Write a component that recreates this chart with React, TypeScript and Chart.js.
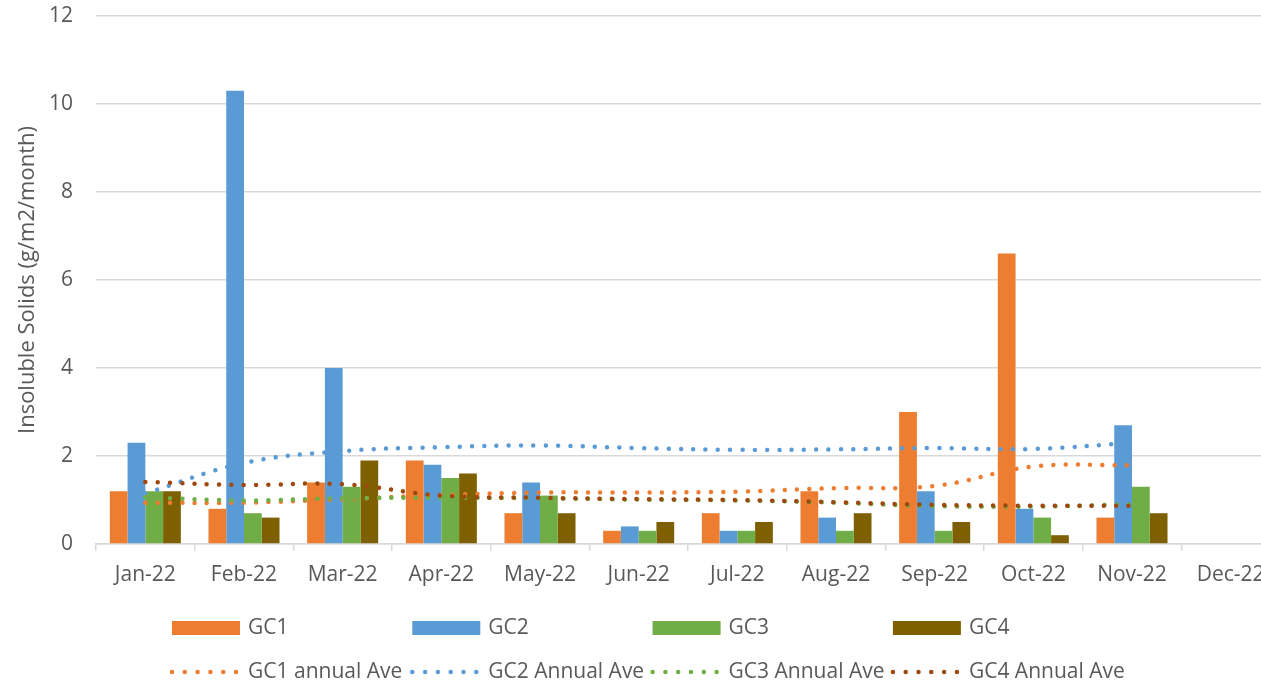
import React, { useEffect, useRef } from "react";
import { Chart, registerables } from "chart.js";

Chart.register(...registerables);

const months = ["Jan-22", "Feb-22", "Mar-22", "Apr-22", "May-22", "Jun-22", "Jul-22", "Aug-22", "Sep-22", "Oct-22", "Nov-22", "Dec-22"];

const gc1 = [1.2, 0.8, 1.4, 1.9, 0.7, 0.3, 0.7, 1.2, 3.0, 6.6, 0.6, null];
const gc2 = [2.3, 10.3, 4.0, 1.8, 1.4, 0.4, 0.3, 0.6, 1.2, 0.8, 2.7, null];
const gc3 = [1.2, 0.7, 1.3, 1.5, 1.1, 0.3, 0.3, 0.3, 0.3, 0.6, 1.3, null];
const gc4 = [1.2, 0.6, 1.9, 1.6, 0.7, 0.5, 0.5, 0.7, 0.5, 0.2, 0.7, null];

const gc1Ave = [0.94, 0.94, 1.02, 1.11, 1.17, 1.17, 1.19, 1.27, 1.32, 1.76, 1.79, null];
const gc2Ave = [1.15, 1.84, 2.11, 2.2, 2.24, 2.18, 2.14, 2.15, 2.18, 2.16, 2.3, null];
const gc3Ave = [1.06, 0.99, 1.04, 1.05, 1.04, 1.01, 0.99, 0.94, 0.86, 0.85, 0.9, null];
const gc4Ave = [1.41, 1.34, 1.36, 1.1, 1.05, 1.02, 1.0, 0.95, 0.89, 0.87, 0.87, null];

const barLabels = ["GC1", "GC2", "GC3", "GC4"];
const lineLabels = ["GC1 annual Ave", "GC2 Annual Ave", "GC3 Annual Ave", "GC4 Annual Ave"];

const barColors = ["#ED7D31", "#5B9BD5", "#70AD47", "#7F6000"];
const lineColors = ["#ED7D31", "#5B9BD5", "#70AD47", "#9E480E"];

const FONT = "'Open Sans', sans-serif";
const TEXT = "#595959";
const GRID = "#d9d9d9";
const DOT_W = 4.5;
const DOT_DASH = [0.001, 12.3];

const gridLegend = {
  id: "gridLegend",
  afterDraw(chart: any) {
    const ctx = chart.ctx;
    const left = chart.chartArea.left + 76;
    const colW = 240.3;
    const row1 = 628;
    const row2 = 672;
    ctx.save();
    ctx.font = `21px ${FONT}`;
    ctx.fillStyle = TEXT;
    ctx.textBaseline = "middle";
    for (let i = 0; i < 4; i++) {
      const x = left + i * colW;
      ctx.fillStyle = barColors[i];
      ctx.fillRect(x, row1 - 7, 68, 14);
      ctx.fillStyle = TEXT;
      ctx.fillText(barLabels[i], x + 76, row1);

      ctx.beginPath();
      ctx.strokeStyle = lineColors[i];
      ctx.lineWidth = DOT_W;
      ctx.lineCap = "round";
      ctx.setLineDash([0.001, 12.8]);
      ctx.moveTo(x, row2);
      ctx.lineTo(x + 66, row2);
      ctx.stroke();
      ctx.setLineDash([]);
      ctx.fillStyle = TEXT;
      ctx.fillText(lineLabels[i], x + 76, row2);
    }
    ctx.restore();
  },
};

export default function App() {
  const ref = useRef<HTMLCanvasElement | null>(null);

  useEffect(() => {
    if (!ref.current) return;
    const bars = [gc1, gc2, gc3, gc4].map((d, i) => ({
      type: "bar" as const,
      label: barLabels[i],
      data: d,
      backgroundColor: barColors[i],
      borderWidth: 0,
      categoryPercentage: 0.72,
      barPercentage: 1.0,
      order: 10,
    }));
    const lines = [gc1Ave, gc2Ave, gc3Ave, gc4Ave].map((d, i) => ({
      type: "line" as const,
      label: lineLabels[i],
      data: d,
      borderColor: lineColors[i],
      backgroundColor: lineColors[i],
      borderWidth: DOT_W,
      borderDash: DOT_DASH,
      borderCapStyle: "round" as const,
      pointRadius: 0,
      pointHoverRadius: 0,
      tension: 0.4,
      fill: false,
      order: 3 - i,
    }));
    const chart = new Chart(ref.current, {
      type: "bar",
      data: { labels: months, datasets: [...bars, ...lines] as any },
      options: {
        animation: false,
        responsive: false,
        maintainAspectRatio: false,
        layout: { padding: { top: 16, right: 4, bottom: 96, left: 0 } },
        plugins: { legend: { display: false }, tooltip: { enabled: false } },
        scales: {
          x: {
            offset: true,
            grid: { display: true, drawOnChartArea: false, drawTicks: true, tickLength: 7, color: GRID, lineWidth: 1.5, offset: true },
            border: { display: true, color: GRID, width: 1.5 },
            ticks: { color: TEXT, font: { family: FONT, size: 21 }, padding: 11, maxRotation: 0, autoSkip: false },
            afterFit: (s: any) => { s.height = 44; },
          },
          y: {
            min: 0,
            max: 12,
            ticks: { stepSize: 2, color: TEXT, font: { family: FONT, size: 21 }, padding: 0 },
            grid: { color: GRID, lineWidth: 1.5, drawTicks: true, tickLength: 23, tickColor: "rgba(0,0,0,0)" },
            border: { display: false },
            title: { display: true, text: "Insoluble Solids (g/m2/month)", color: TEXT, font: { family: FONT, size: 22 }, padding: { top: 15, bottom: 0 } },
            afterFit: (s: any) => { s.width = 96; },
          },
        },
      },
      plugins: [gridLegend],
    });
    return () => chart.destroy();
  }, []);

  return (
    <div style={{ position: "fixed", left: 0, top: 0, width: 1261, height: 684, overflow: "hidden", background: "#fff" }}>
      <canvas ref={ref} width={1284} height={684} style={{ display: "block", width: 1284, height: 684 }} />
    </div>
  );
}
